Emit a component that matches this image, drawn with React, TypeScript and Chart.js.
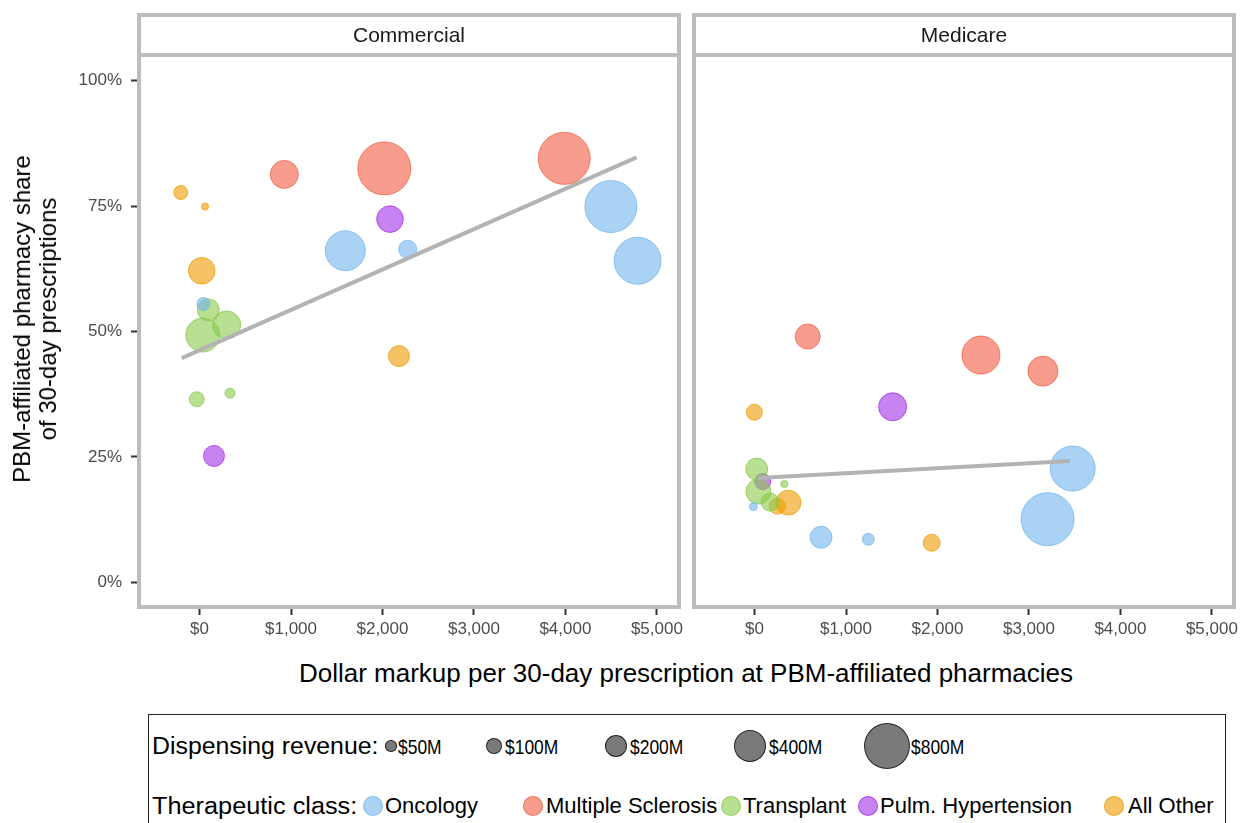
import React, { useEffect, useRef } from 'react';
import { Chart, registerables } from 'chart.js';

Chart.register(...registerables);

const FONT = '"Liberation Sans", Arial, sans-serif';

// ---- categories ----
const classNames = ['Oncology', 'Multiple Sclerosis', 'Transplant', 'Pulm. Hypertension', 'All Other'];
const classRGB = ['112,180,238', '243,92,66', '137,202,73', '162,48,233', '238,155,0'];

// ---- Commercial panel ----
const commercialClass = [
  'All Other', 'All Other', 'Multiple Sclerosis', 'Multiple Sclerosis', 'Pulm. Hypertension',
  'Oncology', 'Oncology', 'All Other', 'Oncology', 'Transplant',
  'Transplant', 'Transplant', 'Transplant', 'Transplant', 'Pulm. Hypertension',
  'All Other', 'Multiple Sclerosis', 'Oncology', 'Oncology',
];
const commercialMarkup = [-205, 60, 927, 2020, 2082, 1594, 2275, 24, 42, 96, 35, 297, -31, 333, 158, 2180, 3987, 4497, 4789];
const commercialShare = [77.7, 74.9, 81.3, 82.5, 72.4, 66.1, 66.4, 62.1, 55.5, 54.3, 49.3, 51.3, 36.5, 37.7, 25.2, 45.1, 84.5, 74.9, 64.1];
const commercialRevenue = [74, 19, 297, 1062, 268, 605, 123, 268, 64, 183, 437, 297, 85, 38, 167, 167, 1023, 1023, 835];
const commercialTrendX = [-195, 4778];
const commercialTrendY = [44.7, 84.7];

// ---- Medicare panel ----
const medicareClass = [
  'Multiple Sclerosis', 'Multiple Sclerosis', 'Multiple Sclerosis', 'Pulm. Hypertension', 'All Other',
  'Oncology', 'Oncology', 'Oncology', 'Oncology', 'All Other',
  'Transplant', 'Pulm. Hypertension', 'Transplant', 'Transplant', 'Oncology',
  'All Other', 'All Other', 'Transplant',
];
const medicareMarkup = [581, 2475, 3153, 1510, -2, 3204, 3478, 727, 1244, 1937, 24, 90, 42, 326, -13, 370, 249, 170];
const medicareShare = [49.0, 45.3, 42.1, 35.0, 33.9, 12.6, 22.7, 9.0, 8.6, 7.9, 22.6, 20.1, 18.1, 19.6, 15.1, 15.9, 15.2, 16.0];
const medicareRevenue = [236, 546, 340, 297, 97, 1062, 766, 183, 54, 109, 183, 97, 236, 19, 24, 236, 97, 123];
const medicareTrendX = [42, 3448];
const medicareTrendY = [20.8, 24.2];

// ---- axes / legend ----
const xTickValues = [0, 1000, 2000, 3000, 4000, 5000];
const yTickValues = [0, 25, 50, 75, 100];
const legendRevenue = [50, 100, 200, 400, 800];
const legendRevenueLabels = ['$50M', '$100M', '$200M', '$400M', '$800M'];

const sizeToRadius = (rev: number) => 0.813 * Math.sqrt(rev);

const framePlugin = {
  id: 'panelFrame',
  afterDraw(chart: any) {
    const { ctx, chartArea: a } = chart;
    ctx.save();
    ctx.strokeStyle = '#bdbdbd';
    ctx.lineWidth = 4;
    ctx.strokeRect(a.left - 2, a.top - 2, a.right - a.left + 4, a.bottom - a.top + 4);
    ctx.restore();
  },
};

type PanelProps = {
  cls: string[];
  xs: number[];
  ys: number[];
  revs: number[];
  trendX: number[];
  trendY: number[];
  showY: boolean;
  left: number;
  width: number;
  padLeft: number;
  padRight: number;
};

function Panel({ cls, xs, ys, revs, trendX, trendY, showY, left, width, padLeft, padRight }: PanelProps) {
  const ref = useRef<HTMLCanvasElement>(null);
  useEffect(() => {
    if (!ref.current) return;
    const datasets: any[] = [];
    datasets.push({
      type: 'line',
      label: 'trend',
      data: trendX.map((x, i) => ({ x, y: trendY[i] })),
      borderColor: '#b3b3b3',
      borderWidth: 4,
      pointRadius: 0,
      fill: false,
      order: 0,
    });
    classNames.forEach((name, c) => {
      const pts: any[] = [];
      cls.forEach((k, i) => {
        if (k === name) pts.push({ x: xs[i], y: ys[i], r: sizeToRadius(revs[i]) });
      });
      datasets.push({
        type: 'bubble',
        label: name,
        data: pts,
        backgroundColor: `rgba(${classRGB[c]},0.6)`,
        borderColor: `rgba(${classRGB[c]},0.75)`,
        borderWidth: 1,
        order: 1 + c,
      });
    });
    const chart = new Chart(ref.current, {
      type: 'bubble',
      data: { datasets },
      options: {
        responsive: false,
        maintainAspectRatio: false,
        animation: false,
        layout: { autoPadding: false, padding: { left: padLeft, right: padRight, top: 57, bottom: 0 } },
        plugins: { legend: { display: false }, tooltip: { enabled: false } },
        scales: {
          x: {
            type: 'linear',
            min: -640,
            max: 5220,
            afterBuildTicks: (s: any) => {
              s.ticks = xTickValues.map((v) => ({ value: v }));
            },
            afterFit: (s: any) => {
              s.height = 45;
              s.paddingLeft = 0;
              s.paddingRight = 0;
            },
            border: { display: false },
            grid: { drawOnChartArea: false, drawTicks: true, tickLength: 10, tickColor: '#333333', tickWidth: 2 },
            ticks: {
              padding: 4,
              maxRotation: 0,
              autoSkip: false,
              color: '#4d4d4d',
              font: { family: FONT, size: 17 },
              callback: (v: any) => '$' + Number(v).toLocaleString('en-US'),
            },
          },
          y: {
            type: 'linear',
            display: showY,
            min: -4.5,
            max: 104.7,
            afterBuildTicks: (s: any) => {
              s.ticks = yTickValues.map((v) => ({ value: v }));
            },
            afterFit: (s: any) => {
              s.width = showY ? 141 : 0;
              s.paddingTop = 0;
              s.paddingBottom = 0;
            },
            border: { display: false },
            grid: { drawOnChartArea: false, drawTicks: true, tickLength: 10, tickColor: '#333333', tickWidth: 2 },
            ticks: {
              padding: 9,
              autoSkip: false,
              color: '#4d4d4d',
              font: { family: FONT, size: 17 },
              callback: (v: any) => v + '%',
            },
          },
        },
      } as any,
      plugins: [framePlugin],
    });
    return () => chart.destroy();
  }, []);
  return (
    <canvas
      ref={ref}
      width={width}
      height={650}
      style={{ position: 'absolute', left, top: 0, width, height: 650 }}
    />
  );
}

function Strip({ left, label }: { left: number; label: string }) {
  return (
    <div
      style={{
        position: 'absolute',
        left,
        top: 13,
        width: 544,
        height: 44,
        boxSizing: 'border-box',
        border: '4px solid #bdbdbd',
        display: 'flex',
        alignItems: 'center',
        justifyContent: 'center',
        fontSize: 21,
        color: '#1a1a1a',
      }}
    >
      {label}
    </div>
  );
}

const revCenters = [391, 494, 616, 750, 887];
const revTextX = [398, 505, 630, 769, 911];
const clsCenters = [373, 533, 731, 868, 1114];
const clsTextX = [385, 546, 743, 880, 1128];

export default function App() {
  const row1 = 746;
  const row2 = 806;
  const textStyle = (x: number, y: number, size: number, sx = 1): React.CSSProperties => ({
    position: 'absolute',
    left: x,
    top: y,
    transform: `translateY(-50%) scaleX(${sx})`,
    transformOrigin: 'left center',
    fontSize: size,
    lineHeight: 1,
    color: '#000',
    whiteSpace: 'nowrap',
  });
  const circle = (cx: number, cy: number, r: number, fill: string, edge: string): React.CSSProperties => ({
    position: 'absolute',
    left: cx - r,
    top: cy - r,
    width: 2 * r,
    height: 2 * r,
    boxSizing: 'border-box',
    borderRadius: '50%',
    background: fill,
    border: `1px solid ${edge}`,
  });
  return (
    <div
      style={{
        position: 'fixed',
        left: 0,
        top: 0,
        width: 1244,
        height: 823,
        overflow: 'hidden',
        background: '#fff',
        fontFamily: FONT,
      }}
    >
      <Panel
        cls={commercialClass}
        xs={commercialMarkup}
        ys={commercialShare}
        revs={commercialRevenue}
        trendX={commercialTrendX}
        trendY={commercialTrendY}
        showY={true}
        left={0}
        width={690}
        padLeft={0}
        padRight={13}
      />
      <Panel
        cls={medicareClass}
        xs={medicareMarkup}
        ys={medicareShare}
        revs={medicareRevenue}
        trendX={medicareTrendX}
        trendY={medicareTrendY}
        showY={false}
        left={690}
        width={554}
        padLeft={6}
        padRight={12}
      />
      <Strip left={137} label="Commercial" />
      <Strip left={692} label="Medicare" />
      <div
        style={{
          position: 'absolute',
          left: 35,
          top: 319,
          transform: 'translate(-50%, -50%) rotate(-90deg)',
          fontSize: 24,
          lineHeight: '26px',
          textAlign: 'center',
          whiteSpace: 'nowrap',
          color: '#000',
        }}
      >
        PBM-affiliated pharmacy share
        <br />
        of 30-day prescriptions
      </div>
      <div
        style={{
          position: 'absolute',
          left: 686,
          top: 673,
          transform: 'translate(-50%, -50%)',
          fontSize: 26,
          whiteSpace: 'nowrap',
          color: '#000',
        }}
      >
        Dollar markup per 30-day prescription at PBM-affiliated pharmacies
      </div>
      <div
        style={{
          position: 'absolute',
          left: 148,
          top: 714,
          width: 1078,
          height: 140,
          boxSizing: 'border-box',
          border: '1px solid #222',
        }}
      />
      <div style={textStyle(152, row1, 23, 1.08)}>Dispensing revenue:</div>
      {legendRevenue.map((v, i) => (
        <React.Fragment key={'rev' + i}>
          <div style={circle(revCenters[i], row1, sizeToRadius(v), 'rgba(0,0,0,0.52)', 'rgba(0,0,0,0.7)')} />
          <div style={textStyle(revTextX[i], row1, 21, 0.83)}>{legendRevenueLabels[i]}</div>
        </React.Fragment>
      ))}
      <div style={textStyle(152, row2, 23, 1.1)}>Therapeutic class:</div>
      {classNames.map((name, i) => (
        <React.Fragment key={'cls' + i}>
          <div style={circle(clsCenters[i], row2, 10, `rgba(${classRGB[i]},0.6)`, `rgba(${classRGB[i]},0.75)`)} />
          <div style={textStyle(clsTextX[i], row2, 22)}>{name}</div>
        </React.Fragment>
      ))}
    </div>
  );
}
